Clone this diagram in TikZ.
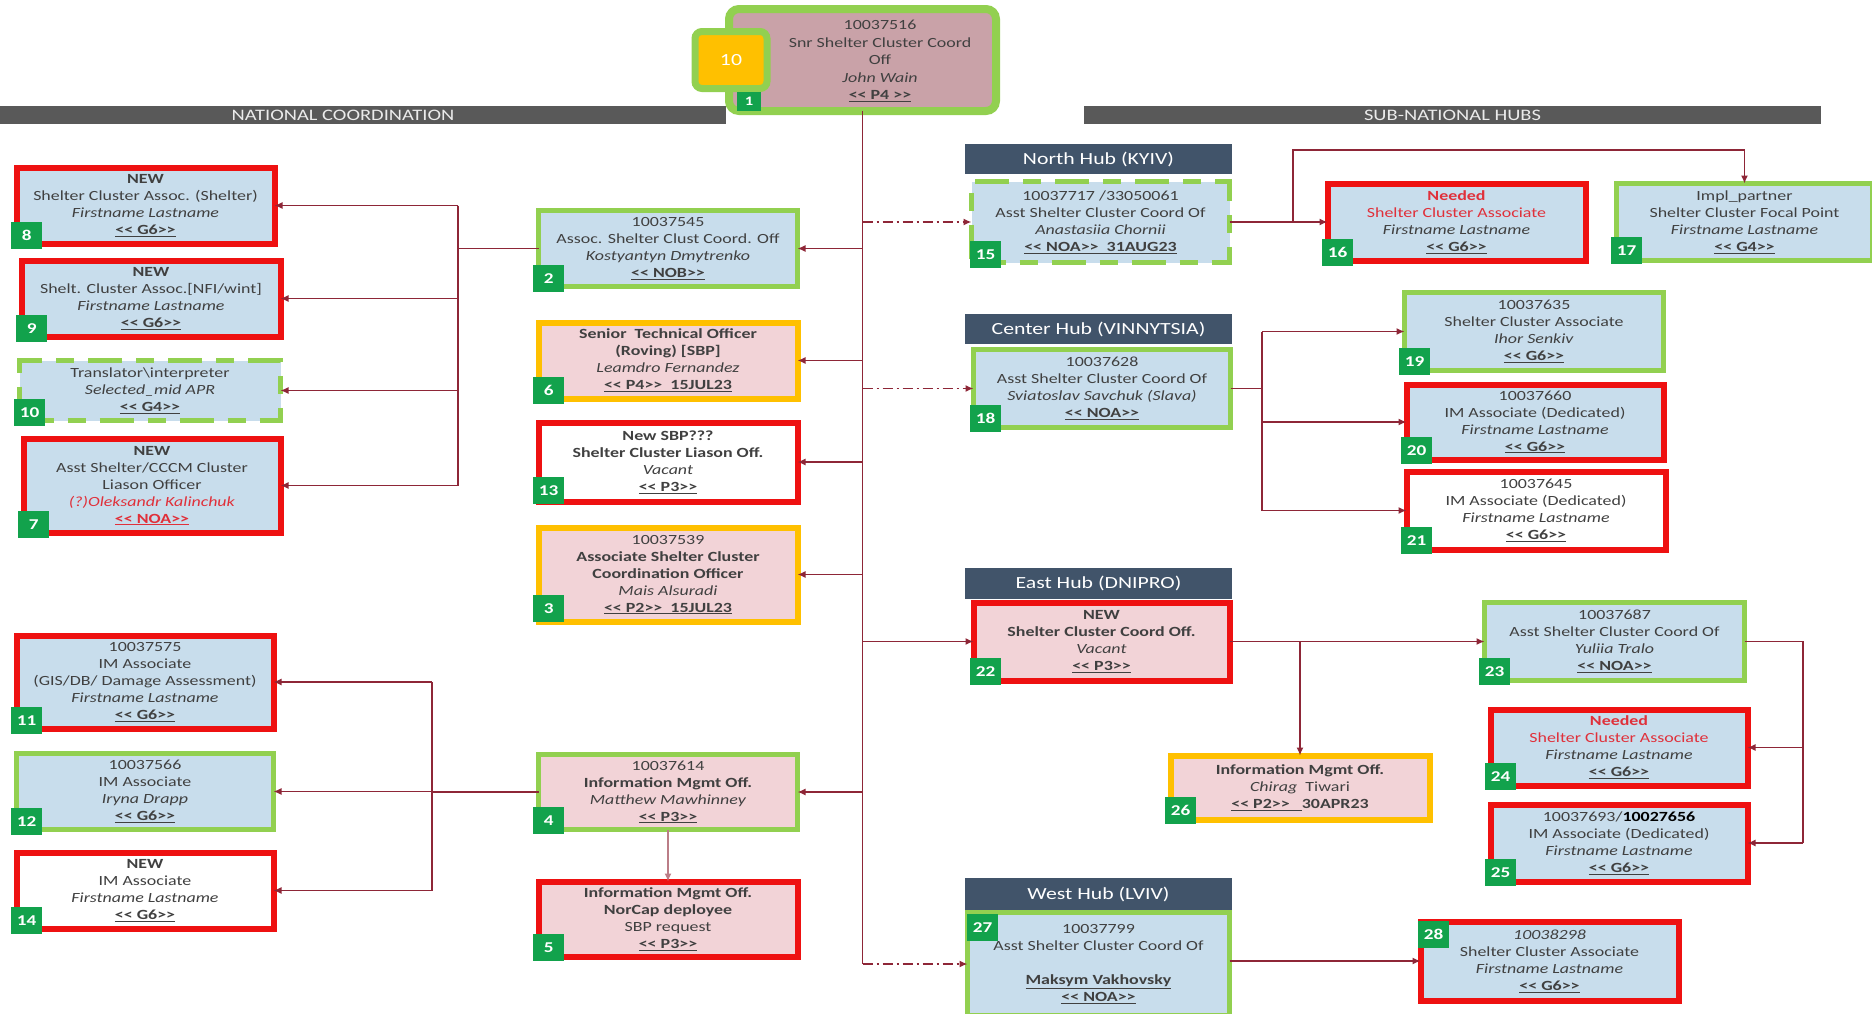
\documentclass[tikz,border=0pt]{standalone}
\usepackage{fontspec}
\setmainfont{Carlito}[FakeStretch=1.28, Ligatures=TeXOff]
\usetikzlibrary{arrows.meta}
\definecolor{cred}{HTML}{EE1111}
\definecolor{cgreen}{HTML}{92D050}
\definecolor{corange}{HTML}{FFC000}
\definecolor{clblue}{HTML}{C8DDEC}
\definecolor{cpink}{HTML}{F2D3D7}
\definecolor{crose}{HTML}{C9A2A8}
\definecolor{cbadge}{HTML}{12A24C}
\definecolor{chub}{HTML}{41546A}
\definecolor{cbar}{HTML}{595959}
\definecolor{cconn}{HTML}{8E2637}
\definecolor{ctext}{HTML}{404040}
\definecolor{credtxt}{HTML}{E0303A}
\newcommand\gr[1]{\textbf{\underline{#1}}}
\newcommand\bx[7]{\node[#6, minimum width={#4-#2-5}, minimum height={#5-#3-5}] (#1) at ({(#2+#4)/2},{(#3+#5)/2}) {#7};}
\newcommand\bdg[4]{\node[badgebox] (#1) at (#2,#3) {#4};}
\begin{document}
\begin{tikzpicture}[x=1pt,y=-1pt,
  pbox/.style={rectangle, inner sep=0pt, outer sep=0pt, align=center, text=ctext, font=\fontsize{14}{17}\selectfont},
  redbox/.style={pbox, draw=cred, line width=6pt},
  grnbox/.style={pbox, draw=cgreen, line width=5pt},
  orgbox/.style={pbox, draw=corange, line width=6pt},
  dashbox/.style={pbox, draw=cgreen, line width=5pt, dash pattern=on 34pt off 14pt on 18pt off 14pt},
  fb/.style={fill=clblue}, fp/.style={fill=cpink}, fw/.style={fill=white},
  badgebox/.style={rectangle, fill=cbadge, text=white, font=\fontsize{15}{15}\selectfont\bfseries, minimum width=31pt, minimum height=27pt, inner sep=1pt, anchor=south west},
  hubbox/.style={rectangle, fill=chub, text=white, font=\fontsize{17}{17}\selectfont, inner sep=0pt, outer sep=0pt},
  barbox/.style={rectangle, fill=cbar, text=white!92!black, font=\fontsize{16}{16}\selectfont, inner sep=0pt, minimum height=18pt},
  conn/.style={draw=cconn, line width=1.5pt},
  arr/.style={conn, -{Latex[length=8pt,width=7pt]}},
  dashdot/.style={dash pattern=on 10pt off 4pt on 2pt off 4pt}
]
\useasboundingbox (0,0) rectangle (1872,1013);
\fill[white] (0,0) rectangle (1872,1013);
\clip (0,0) rectangle (1872,1013);

% header bars
\node[barbox, minimum width=766pt] (natbar) at (343,115) {NATIONAL COORDINATION};
\node[barbox, minimum width=737pt] (subbar) at (1452.5,115) {SUB-NATIONAL HUBS};

% top box
\node[rectangle, draw=cgreen, line width=8pt, fill=crose, rounded corners=10pt, minimum width=267pt, minimum height=102pt, inner sep=0pt, outer sep=0pt] (b1) at (862.5,60) {};
\node[align=center, text=ctext, font=\fontsize{14}{17.5}\selectfont] (b1t) at (880,61) {10037516\\Snr Shelter Cluster Coord\\Off\\\textit{John Wain}\\\gr{<< P4 >>}};
\node[rectangle, draw=cgreen, line width=7pt, fill=corange, rounded corners=7pt, minimum width=72pt, minimum height=57pt, text=white, font=\fontsize{17}{17}\selectfont] (ten) at (731,60) {10};
\node[badgebox, minimum width=24pt, minimum height=19pt, font=\fontsize{13}{13}\selectfont\bfseries] (n1) at (737,111) {1};

% hub headers
\node[hubbox, minimum width=267pt, minimum height=30pt] (h15) at (1098.5,159) {North Hub (KYIV)};
\node[hubbox, minimum width=267pt, minimum height=30pt] (h18) at (1098.5,329) {Center Hub (VINNYTSIA)};
\node[hubbox, minimum width=267pt, minimum height=31pt] (h22) at (1098.5,583.5) {East Hub (DNIPRO)};
\node[hubbox, minimum width=267pt, minimum height=32pt] (h27) at (1098.5,894) {West Hub (LVIV)};

% left column
\bx{b8}{14}{165}{277}{246}{redbox,fb}{\textbf{NEW}\\Shelter Cluster Assoc. (Shelter)\\\textit{Firstname Lastname}\\\gr{<< G6>>}}
\bx{b9}{19}{258}{283}{339}{redbox,fb}{\textbf{NEW}\\Shelt. Cluster Assoc.[NFI/wint]\\\textit{Firstname Lastname}\\\gr{<< G6>>}}
\bx{b10}{17}{358}{283}{423}{dashbox,fb}{Translator\textbackslash interpreter\\\textit{Selected\_mid APR}\\\gr{<< G4>>}}
\bx{b7}{21}{436}{283}{535}{redbox,fb}{\textbf{NEW}\\Asst Shelter/CCCM Cluster\\Liason Officer\\\textcolor{credtxt}{\textit{(?)Oleksandr Kalinchuk}}\\\textcolor{credtxt}{\gr{<< NOA>>}}}
\bx{b11}{14}{633}{276}{731}{redbox,fb}{10037575\\IM Associate\\(GIS/DB/ Damage Assessment)\\\textit{Firstname Lastname}\\\gr{<< G6>>}}
\bx{b12}{14}{751}{276}{832}{grnbox,fb}{10037566\\IM Associate\\\textit{Iryna Drapp}\\\gr{<< G6>>}}
\bx{b14}{14}{850}{276}{931}{redbox,fw}{\textbf{NEW}\\IM Associate\\\textit{Firstname Lastname}\\\gr{<< G6>>}}

% middle column
\bx{b2}{536}{208}{800}{289}{grnbox,fb}{10037545\\Assoc. Shelter Clust Coord. Off\\\textit{Kostyantyn Dmytrenko}\\\gr{<< NOB>>}}
\bx{b6}{536}{320}{800}{401}{orgbox,fp}{\textbf{Senior\ \ Technical Officer}\\\textbf{(Roving) [SBP]}\\\textit{Leamdro Fernandez}\\\gr{<< P4>>\ \ 15JUL23}}
\bx{b13}{536}{420}{800}{504}{redbox,fw}{\textbf{New SBP???}\\\textbf{Shelter Cluster Liason Off.}\\\textit{Vacant}\\\gr{<< P3>>}}
\bx{b3}{536}{525}{800}{624}{orgbox,fp}{10037539\\\textbf{Associate Shelter Cluster}\\\textbf{Coordination Officer}\\\textit{Mais Alsuradi}\\\gr{<< P2>>\ \ 15JUL23}}
\bx{b4}{536}{752}{800}{832}{grnbox,fp}{10037614\\\textbf{Information Mgmt Off.}\\\textit{Matthew Mawhinney}\\\gr{<< P3>>}}
\bx{b5}{536}{879}{800}{959}{redbox,fp}{\textbf{Information Mgmt Off.}\\\textbf{NorCap deployee}\\SBP request\\\gr{<< P3>>}}

% hubs
\bx{b15}{969}{179}{1232}{265}{dashbox,fb}{10037717 /33050061\\Asst Shelter Cluster Coord Of\\\textit{Anastasiia Chornii}\\\gr{<< NOA>>\ \ 31AUG23}}
\bx{b18}{971}{347}{1233}{430}{grnbox,fb}{10037628\\Asst Shelter Cluster Coord Of\\\textit{Sviatoslav Savchuk (Slava)}\\\gr{<< NOA>>}}
\bx{b22}{971}{600}{1232}{683}{redbox,fp}{\textbf{NEW}\\\textbf{Shelter Cluster Coord Off.}\\\textit{Vacant}\\\gr{<< P3>>}}
\bx{b27}{965}{910}{1232}{1018}{grnbox,fb}{10037799\\Asst Shelter Cluster Coord Of\\\mbox{}\\\gr{Maksym Vakhovsky}\\\gr{<< NOA>>}}

% right side
\bx{b16}{1325}{181}{1588}{263}{redbox,fb}{\textcolor{credtxt}{\textbf{Needed}}\\\textcolor{credtxt}{Shelter Cluster Associate}\\\textit{Firstname Lastname}\\\gr{<< G6>>}}
\bx{b17}{1614}{181}{1875}{263}{grnbox,fb}{Impl\_partner\\Shelter Cluster Focal Point\\\textit{Firstname Lastname}\\\gr{<< G4>>}}
\bx{b19}{1402}{290}{1666}{373}{grnbox,fb}{10037635\\Shelter Cluster Associate\\\textit{Ihor Senkiv}\\\gr{<< G6>>}}
\bx{b20}{1404}{382}{1666}{462}{redbox,fb}{10037660\\IM Associate (Dedicated)\\\textit{Firstname Lastname}\\\gr{<< G6>>}}
\bx{b21}{1404}{469}{1668}{552}{redbox,fw}{10037645\\IM Associate (Dedicated)\\\textit{Firstname Lastname}\\\gr{<< G6>>}}
\bx{b23}{1482}{600}{1747}{683}{grnbox,fb}{10037687\\Asst Shelter Cluster Coord Of\\\textit{Yuliia Tralo}\\\gr{<< NOA>>}}
\bx{b24}{1488}{707}{1750}{788}{redbox,fb}{\textcolor{credtxt}{\textbf{Needed}}\\\textcolor{credtxt}{Shelter Cluster Associate}\\\textit{Firstname Lastname}\\\gr{<< G6>>}}
\bx{b25}{1488}{802}{1750}{884}{redbox,fb}{10037693/\textbf{\textcolor{black}{10027656}}\\IM Associate (Dedicated)\\\textit{Firstname Lastname}\\\gr{<< G6>>}}
\bx{b26}{1168}{753}{1432}{822}{orgbox,fp}{\textbf{Information Mgmt Off.}\\\textit{Chirag}\ \ Tiwari\\\gr{<< P2>>\ \ \ }\textbf{30APR23}}
\bx{b28}{1418}{919}{1681}{1003}{redbox,fb}{\textit{10038298}\\Shelter Cluster Associate\\\textit{Firstname Lastname}\\\gr{<< G6>>}}

% badges
\bdg{n8}{11}{249}{8}
\bdg{n9}{16}{342}{9}
\bdg{n10}{14}{426}{10}
\bdg{n7}{18}{538}{7}
\bdg{n11}{11}{734}{11}
\bdg{n12}{11}{835}{12}
\bdg{n14}{11}{934}{14}
\bdg{n2}{533}{292}{2}
\bdg{n6}{533}{404}{6}
\bdg{n13}{533}{504}{13}
\bdg{n3}{533}{622}{3}
\bdg{n4}{533}{834}{4}
\bdg{n5}{533}{961}{5}
\bdg{n15}{970}{268}{15}
\bdg{n18}{970}{432}{18}
\bdg{n22}{970}{685}{22}
\bdg{n16}{1322}{266}{16}
\bdg{n17}{1611}{264}{17}
\bdg{n19}{1399}{375}{19}
\bdg{n20}{1401}{464}{20}
\bdg{n21}{1401}{554}{21}
\bdg{n23}{1479}{685}{23}
\bdg{n24}{1485}{790}{24}
\bdg{n25}{1485}{886}{25}
\bdg{n26}{1165}{824}{26}
\bdg{n27}{967}{941}{27}
\bdg{n28}{1418}{948}{28}

% connectors
\draw[conn] (b1.south) -- (b1.south |- b27.west);
\foreach \b in {b2,b6,b13,b3,b4} \draw[arr] (b1.south |- \b.east) -- (\b.east);
\foreach \b in {b15,b18} \draw[arr,dashdot] (b1.south |- \b.west) -- (\b.west);
\draw[arr] (b1.south |- b22.west) -- (b22.west);
\draw[arr,dashdot] (b1.south |- b27.west) -- (b27.west);

\coordinate (busA) at (458,0);
\draw[conn] (b2.west) -- (busA |- b2.west);
\draw[conn] (busA |- b8.east) -- (busA |- b7.east);
\foreach \b in {b8,b9,b10,b7} \draw[arr] (busA |- \b.east) -- (\b.east);

\coordinate (busB) at (432,0);
\draw[conn] (b4.west) -- (busB |- b4.west);
\draw[conn] (busB |- b11.east) -- (busB |- b14.east);
\foreach \b in {b11,b12,b14} \draw[arr] (busB |- \b.east) -- (\b.east);
\draw[arr, draw=cconn!60] (b4.south) -- (b5.north);

\draw[arr] (b15.east) -- (b16.west);
\coordinate (nA) at (1293,150);
\draw[arr] (nA |- b15.east) -- (nA) -| (b17.north);

\coordinate (cA) at (1262,0);
\draw[conn] (b18.east) -- (cA |- b18.east);
\draw[conn] (cA |- b19.west) -- (cA |- b21.west);
\foreach \b in {b19,b20,b21} \draw[arr] (cA |- \b.west) -- (\b.west);

\draw[arr] (b22.east) -- (b23.west);
\draw[arr] (b26.north |- b22.east) -- (b26.north);
\coordinate (eA) at (1803,0);
\draw[conn] (b23.east) -- (eA |- b23.east) -- (eA |- b25.east);
\foreach \b in {b24,b25} \draw[arr] (eA |- \b.east) -- (\b.east);

\draw[arr] (b27.east |- b28.west) -- (b28.west);
\end{tikzpicture}
\end{document}
